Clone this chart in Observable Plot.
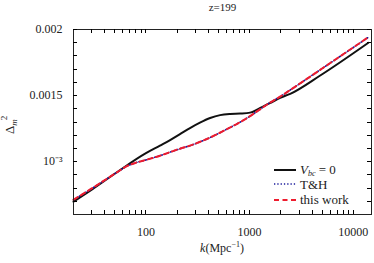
<!DOCTYPE html>
<html>
<head>
<meta charset="utf-8">
<script src="https://cdn.jsdelivr.net/npm/d3@7"></script>
<script src="https://cdn.jsdelivr.net/npm/@observablehq/plot@0.6"></script>
<style>
  html, body { margin: 0; padding: 0; background: #fff; }
  svg { font-family: "Liberation Serif", serif; }
</style>
</head>
<body>
<div id="chart"></div>
<script>
// ---- data ----
const kBlack = [20, 30, 52.5, 100, 136.5, 171, 213, 266, 332, 416, 519, 649, 810, 1012, 1208, 1575, 1970, 2465, 4800, 14000];
const vBlack = [0.000697, 0.000788, 0.00092, 0.001064, 0.001121, 0.001163, 0.001208, 0.001254, 0.001295, 0.00133, 0.001352, 0.001361, 0.001364, 0.001371, 0.001398, 0.001443, 0.001483, 0.001513, 0.001652, 0.0019];

const kTH = [20, 30, 52.5, 65.5, 80, 100, 136.5, 171, 213, 266, 355, 464, 580, 757, 1012, 1208, 1575, 1970, 2465, 4800, 14000];
const vTH = [0.000711, 0.000796, 0.000919, 0.000966, 0.000992, 0.001013, 0.001045, 0.001072, 0.001098, 0.001121, 0.001159, 0.0012, 0.001239, 0.001286, 0.001345, 0.001386, 0.001447, 0.001492, 0.001542, 0.001695, 0.001941];

const kWork = [20, 30, 52.5, 65.5, 80, 100, 136.5, 171, 213, 266, 355, 464, 580, 757, 1012, 1208, 1575, 1970, 2465, 4800, 14000];
const vWork = [0.000712, 0.000797, 0.000919, 0.000966, 0.000992, 0.001013, 0.001045, 0.001072, 0.001098, 0.001121, 0.001159, 0.0012, 0.001239, 0.001286, 0.001345, 0.001386, 0.001447, 0.001492, 0.001542, 0.001695, 0.001942];

const xTickLabels = [100, 1000, 10000];
const xMinorTicks = [30, 40, 50, 60, 70, 80, 90, 100, 200, 300, 400, 500, 600, 700, 800, 900, 1000, 2000, 3000, 4000, 5000, 6000, 7000, 8000, 9000, 10000];
const yTickLabels = [0.001, 0.0015, 0.002];
const yTickText = ["10\u207B\u00B3", "0.0015", "0.002"];
const yMinorTicks = [0.0007, 0.0008, 0.0009, 0.001, 0.0011, 0.0012, 0.0013, 0.0014, 0.0015, 0.0016, 0.0017, 0.0018, 0.0019, 0.002];

const series = [
  {name: "V_bc = 0", k: kBlack, v: vBlack},
  {name: "T&H", k: kTH, v: vTH},
  {name: "this work", k: kWork, v: vWork}
];
const rows = series.flatMap(s => s.k.map((k, i) => ({series: s.name, k, v: s.v[i]})));

const W = 374, H = 263;
const mL = 73, mR = 3, mT = 29, mB = 49;
const pw = W - mL - mR, ph = H - mT - mB;
const tickLen = 4;

const plot = Plot.plot({
  width: W, height: H,
  marginLeft: mL, marginRight: mR, marginTop: mT, marginBottom: mB,
  style: {fontFamily: "Liberation Serif, serif", fontSize: "12px", color: "#222", background: "#fff"},
  x: {type: "log", domain: [20, 15000]},
  y: {type: "linear", domain: [0.0006, 0.002]},
  marks: [
    // axis labels only
    Plot.axisX(xTickLabels, {anchor: "bottom", tickSize: 0, tickPadding: 13, tickFormat: d => String(d), label: null, fontSize: 12}),
    Plot.axisY(yTickLabels, {anchor: "left", tickSize: 0, tickPadding: 11, tickFormat: d => yTickText[yTickLabels.indexOf(d)], label: null, fontSize: 12}),
    // data lines
    Plot.line(rows.filter(d => d.series === "V_bc = 0"), {x: "k", y: "v", stroke: "#111", strokeWidth: 2, curve: "monotone-x"}),
    Plot.line(rows.filter(d => d.series === "T&H"), {x: "k", y: "v", stroke: "#1a1a9a", strokeWidth: 1.6, strokeDasharray: "1.3,2", curve: "monotone-x"}),
    Plot.line(rows.filter(d => d.series === "this work"), {x: "k", y: "v", stroke: "#ee1c2e", strokeWidth: 2, strokeDasharray: "5,3.5", curve: "monotone-x"}),
    Plot.frame({stroke: "#222", strokeWidth: 1}),
    // title
    Plot.text(["z=199"], {frameAnchor: "top", dy: -19, lineAnchor: "bottom", fontSize: 11, fill: "#222"})
  ]
});

document.getElementById("chart").appendChild(plot);

const svg = d3.select(plot);

// inward ticks on all four sides, positioned with Plot's own scales
const sx = plot.scale("x"), sy = plot.scale("y");
const gt = svg.append("g").attr("stroke", "#000").attr("stroke-width", 1).attr("fill", "none");
xMinorTicks.forEach(v => {
  const px = Math.round(sx.apply(v)) + 0.5;
  gt.append("line").attr("x1", px).attr("x2", px).attr("y1", mT + ph).attr("y2", mT + ph - tickLen);
  gt.append("line").attr("x1", px).attr("x2", px).attr("y1", mT).attr("y2", mT + tickLen);
});
yMinorTicks.forEach(v => {
  const py = Math.round(sy.apply(v)) + 0.5;
  gt.append("line").attr("x1", mL).attr("x2", mL + tickLen).attr("y1", py).attr("y2", py);
  gt.append("line").attr("x1", mL + pw).attr("x2", mL + pw - tickLen).attr("y1", py).attr("y2", py);
});

// axis titles and legend as real text
const xl = svg.append("text")
  .attr("x", mL + pw / 2).attr("y", 252)
  .attr("text-anchor", "middle")
  .attr("font-size", 12).attr("fill", "#222");
xl.append("tspan").attr("font-style", "italic").text("k");
xl.append("tspan").text("(Mpc");
xl.append("tspan").attr("dy", -5).attr("font-size", 8).text("\u22121");
xl.append("tspan").attr("dy", 5).text(")");

const yl = svg.append("text")
  .attr("transform", "translate(14,134) rotate(-90)")
  .attr("text-anchor", "start")
  .attr("font-size", 13).attr("fill", "#222");
yl.append("tspan").text("\u0394");
yl.append("tspan").attr("dy", 3).attr("font-size", 9).attr("font-style", "italic").text("m");
yl.append("tspan").attr("dx", -1).attr("dy", -10).attr("font-size", 9).text("2");

const legendX = 274, legendTextX = 300;
const legendY = [170, 184, 200];
const legendStyles = [
  {stroke: "#111", width: 2, dash: null},
  {stroke: "#1a1a9a", width: 1.6, dash: "1.3,2"},
  {stroke: "#ee1c2e", width: 2, dash: "5,3.5"}
];
legendStyles.forEach((s, i) => {
  svg.append("line")
    .attr("x1", legendX).attr("x2", legendX + 22)
    .attr("y1", legendY[i]).attr("y2", legendY[i])
    .attr("stroke", s.stroke).attr("stroke-width", s.width)
    .attr("stroke-dasharray", s.dash);
});
const t0 = svg.append("text").attr("x", legendTextX).attr("y", legendY[0] + 4).attr("text-anchor", "start").attr("font-size", 13).attr("fill", "#222");
t0.append("tspan").attr("font-style", "italic").text("V");
t0.append("tspan").attr("dy", 2).attr("font-size", 8).attr("font-style", "italic").text("bc");
t0.append("tspan").attr("dy", -2).text(" = 0");
svg.append("text").attr("x", legendTextX).attr("y", legendY[1] + 5).attr("text-anchor", "start").attr("font-size", 13).attr("fill", "#222").text("T&H");
svg.append("text").attr("x", legendTextX).attr("y", legendY[2] + 4).attr("text-anchor", "start").attr("font-size", 13).attr("fill", "#222").text("this work");
</script>
</body>
</html>
